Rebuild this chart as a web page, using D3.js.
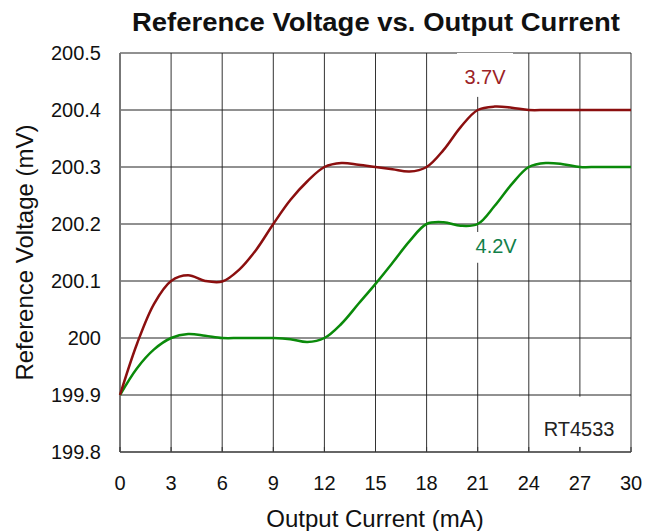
<!DOCTYPE html>
<html>
<head>
<meta charset="utf-8">
<script src="https://cdn.jsdelivr.net/npm/d3@7"></script>
<style>
  body { margin: 0; background: #fff; }
  svg { font-family: "Liberation Sans", Arial, sans-serif; display: block; }
</style>
</head>
<body>
<div id="chart"></div>
<script>
// Data
const currentMA = [0, 1, 2, 3, 4, 5, 6, 7, 8, 9, 10, 11, 12, 13, 14, 15, 16, 17, 18, 19, 20, 21, 22, 23, 24, 25, 26, 27, 28, 29, 30];
const v37 = [199.9, 199.99, 200.06, 200.1, 200.11, 200.1, 200.099, 200.12, 200.155, 200.2, 200.242, 200.275, 200.3, 200.307, 200.304, 200.3, 200.296, 200.292, 200.3, 200.33, 200.37, 200.4, 200.406, 200.404, 200.4, 200.4, 200.4, 200.4, 200.4, 200.4, 200.4];
const v42 = [199.9, 199.947, 199.98, 200.0, 200.007, 200.004, 200.0, 200.0, 200.0, 200.0, 199.998, 199.993, 200.0, 200.025, 200.06, 200.095, 200.132, 200.17, 200.2, 200.203, 200.197, 200.2, 200.232, 200.27, 200.3, 200.307, 200.305, 200.3, 200.3, 200.3, 200.3];
const xTicks = [0, 3, 6, 9, 12, 15, 18, 21, 24, 27, 30];
const yTicks = [199.8, 199.9, 200, 200.1, 200.2, 200.3, 200.4, 200.5];

function createChart(width, height) {
    const margin = { top: 53, right: 28, bottom: 79, left: 120 };
    const w = width - margin.left - margin.right;
    const h = height - margin.top - margin.bottom;

    const svg = d3.select('#chart').append('svg')
        .attr('width', width)
        .attr('height', height);

    const g = svg.append('g')
        .attr('transform', `translate(${margin.left},${margin.top})`);

    const x = d3.scaleLinear().domain([0, 30]).range([0, w]);
    const y = d3.scaleLinear().domain([199.8, 200.5]).range([h, 0]);

    // grid
    g.append('g').selectAll('line')
        .data(xTicks.slice(1))
        .join('line')
        .attr('x1', d => x(d)).attr('x2', d => x(d))
        .attr('y1', 0).attr('y2', h)
        .style('stroke', '#333').style('stroke-width', 1);

    g.append('g').selectAll('line')
        .data(yTicks.slice(1))
        .join('line')
        .attr('x1', 0).attr('x2', w)
        .attr('y1', d => y(d)).attr('y2', d => y(d))
        .style('stroke', '#222').style('stroke-width', 1);

    // label boxes that cover gridlines (text baseline at y value, box between top/bottom values)
    const labels = [
        { text: '3.7V', cx: x(21.43), base: y(200.4456), top: y(200.5), bottom: y(200.423), bw: 56, color: '#9b2226' },
        { text: '4.2V', cx: x(22.08), base: y(200.149), top: y(200.186), bottom: y(200.132), bw: 56, color: '#12804a' },
        { text: 'RT4533', cx: x(26.95), base: y(199.828), top: y(199.897), bottom: y(199.809), bw: 82, color: '#222' }
    ];
    labels.forEach(l => {
        g.append('rect')
            .attr('x', l.cx - l.bw / 2).attr('y', l.top)
            .attr('width', l.bw).attr('height', l.bottom - l.top)
            .style('fill', '#fff');
    });

    // axes
    g.append('line').attr('x1', 0).attr('x2', 0).attr('y1', 0).attr('y2', h)
        .style('stroke', '#777').style('stroke-width', 2);
    g.append('line').attr('x1', 0).attr('x2', w).attr('y1', h).attr('y2', h)
        .style('stroke', '#666').style('stroke-width', 2);

    // small inward ticks on the bottom axis
    g.append('g').selectAll('line')
        .data(xTicks)
        .join('line')
        .attr('x1', d => x(d)).attr('x2', d => x(d))
        .attr('y1', h - 5).attr('y2', h)
        .style('stroke', '#333').style('stroke-width', 1);

    g.append('g').selectAll('text')
        .data(yTicks)
        .join('text')
        .attr('x', -19)
        .attr('y', d => y(d))
        .attr('dy', '0.36em')
        .attr('text-anchor', 'end')
        .style('font-size', '20px')
        .style('fill', '#111')
        .text(d => +d.toFixed(1));

    g.append('g').selectAll('text')
        .data(xTicks)
        .join('text')
        .attr('x', d => x(d))
        .attr('y', h + 38)
        .attr('text-anchor', 'middle')
        .style('font-size', '20px')
        .style('fill', '#111')
        .text(d => d);

    // curves
    const line = d3.line()
        .x((d, i) => x(currentMA[i]))
        .y(d => y(d))
        .curve(d3.curveCatmullRom.alpha(0.5));

    g.append('path').datum(v42)
        .attr('d', line)
        .style('fill', 'none')
        .style('stroke', '#0a8a0a')
        .style('stroke-width', 2.5);

    g.append('path').datum(v37)
        .attr('d', line)
        .style('fill', 'none')
        .style('stroke', '#8b0f0f')
        .style('stroke-width', 2.5);

    labels.forEach(l => {
        g.append('text')
            .attr('x', l.cx).attr('y', l.base)
            .attr('text-anchor', 'middle')
            .style('font-size', '20px')
            .style('fill', l.color)
            .text(l.text);
    });

    // titles
    svg.append('text')
        .attr('x', 376).attr('y', 31)
        .attr('text-anchor', 'middle')
        .attr('textLength', 488)
        .attr('lengthAdjust', 'spacingAndGlyphs')
        .style('font-size', '25px')
        .style('font-weight', 'bold')
        .style('fill', '#111')
        .text('Reference Voltage vs. Output Current');

    svg.append('text')
        .attr('x', 375).attr('y', 527)
        .attr('text-anchor', 'middle')
        .style('font-size', '24px')
        .style('fill', '#111')
        .text('Output Current (mA)');

    svg.append('text')
        .attr('transform', `translate(33,${margin.top + h / 2}) rotate(-90)`)
        .attr('text-anchor', 'middle')
        .style('font-size', '24px')
        .style('fill', '#111')
        .text('Reference Voltage (mV)');
}

createChart(659, 531);
</script>
</body>
</html>
